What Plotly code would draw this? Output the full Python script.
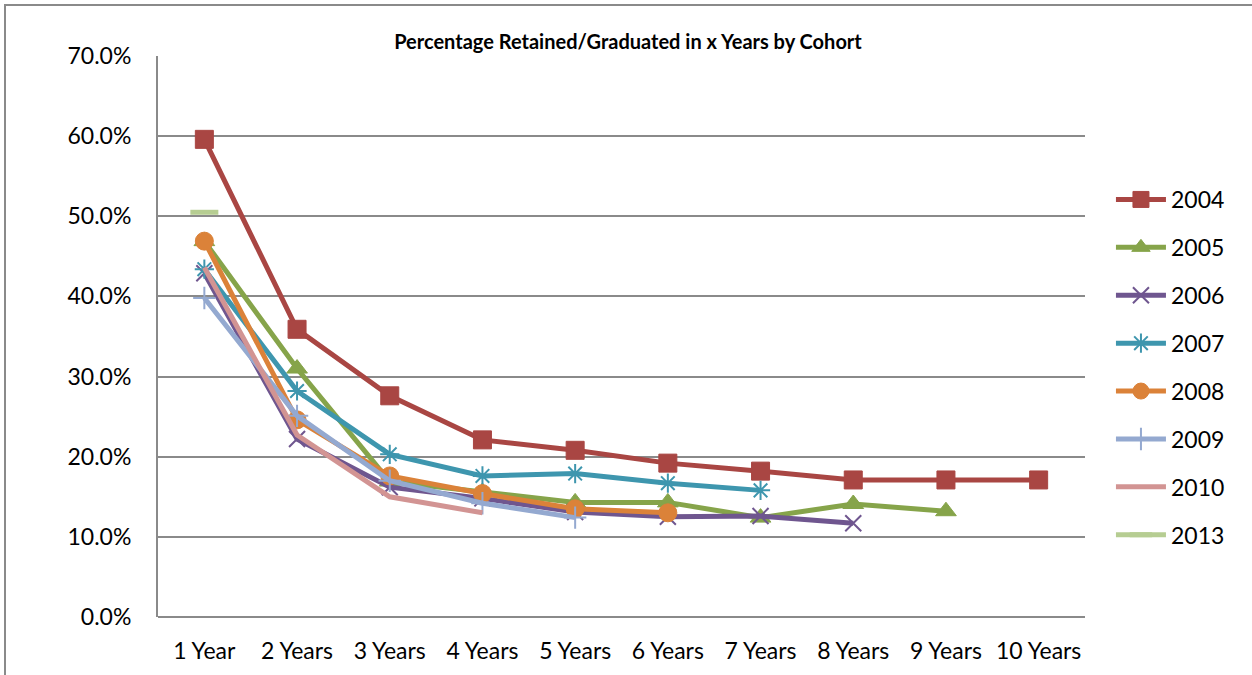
import plotly.graph_objects as go

categories = ["1 Year", "2 Years", "3 Years", "4 Years", "5 Years",
              "6 Years", "7 Years", "8 Years", "9 Years", "10 Years"]

s2004 = [59.6, 35.9, 27.6, 22.1, 20.8, 19.2, 18.2, 17.1, 17.1, 17.1]
s2005 = [46.9, 31.0, 16.9, 15.6, 14.3, 14.3, 12.4, 14.1, 13.2]
s2006 = [42.9, 22.2, 16.2, 14.8, 13.1, 12.5, 12.6, 11.7]
s2007 = [43.4, 28.2, 20.3, 17.6, 17.9, 16.7, 15.8]
s2008 = [46.9, 24.6, 17.6, 15.4, 13.5, 13.0]
s2009 = [39.8, 25.1, 17.0, 14.2, 12.4]
s2010 = [43.6, 22.7, 15.0, 13.0]
s2013 = [50.5]

years = ["2004", "2005", "2006", "2007", "2008", "2009", "2010", "2013"]
series = [s2004, s2005, s2006, s2007, s2008, s2009, s2010, s2013]
colors = ["#A94643", "#86A44A", "#6F568F", "#3E96AE", "#DB8239",
          "#94A9D0", "#D29493", "#B6CD92"]
symbols = ["square", "triangle-up", "x-thin-open", "asterisk-open", "circle",
           "cross-thin-open", None, "line-ew-open"]
sizes = [18, 18, 16, 16, 18, 16, 0, 20]
mlw = [1, 1, 2, 2, 1, 2, 0, 5]

fig = go.Figure()
for i, (yr, vals) in enumerate(zip(years, series)):
    sym = symbols[i]
    kw = dict(
        x=categories[:len(vals)],
        y=[v / 100 for v in vals],
        name=yr,
        legendgroup=yr,
        line=dict(color=colors[i], width=5),
    )
    if sym is None:
        kw["mode"] = "lines"
    else:
        kw["mode"] = "lines+markers"
        kw["marker"] = dict(symbol=sym, size=sizes[i], color=colors[i],
                            line=dict(color=colors[i], width=mlw[i]))
    fig.add_trace(go.Scatter(**kw))

fig.update_layout(
    width=1252, height=675,
    margin=dict(l=158, r=167, t=56, b=58),
    paper_bgcolor="white", plot_bgcolor="white",
    font=dict(family="Lato, Open Sans, sans-serif", size=23, color="black"),
    title=dict(text="<b>Percentage Retained/Graduated in x Years by Cohort</b>",
               x=628 / 1252, xanchor="center", y=1 - 42 / 675, yanchor="middle",
               font=dict(size=20, family="Lato, sans-serif")),
    showlegend=True,
    legend=dict(x=1.028, xanchor="left", y=(617 - 178) / 561, yanchor="top",
                traceorder="grouped", tracegroupgap=15,
                font=dict(size=23), itemwidth=50),
    xaxis=dict(type="category", categoryorder="array", categoryarray=categories,
               range=[-0.5, 9.5], showgrid=False, showline=False,
               ticks="", tickfont=dict(size=23), ticklabelstandoff=18),
    yaxis=dict(range=[0, 0.7], dtick=0.1, tickformat=".1%",
               showgrid=True, gridcolor="#8A8A8A", gridwidth=2,
               showline=True, linecolor="#8A8A8A", linewidth=2,
               zeroline=True, zerolinecolor="#8A8A8A", zerolinewidth=2,
               ticks="", tickfont=dict(size=23), ticklabelstandoff=20),
    shapes=[dict(type="rect", xref="paper", yref="paper",
                 x0=(5 - 158) / 927, x1=(1300 - 158) / 927,
                 y0=-0.3, y1=(617 - 5) / 561,
                 line=dict(color="#8A8A8A", width=2), layer="below")],
)

fig.write_html("out.html", config={"displayModeBar": False},
               post_script="document.body.style.margin='0';")
